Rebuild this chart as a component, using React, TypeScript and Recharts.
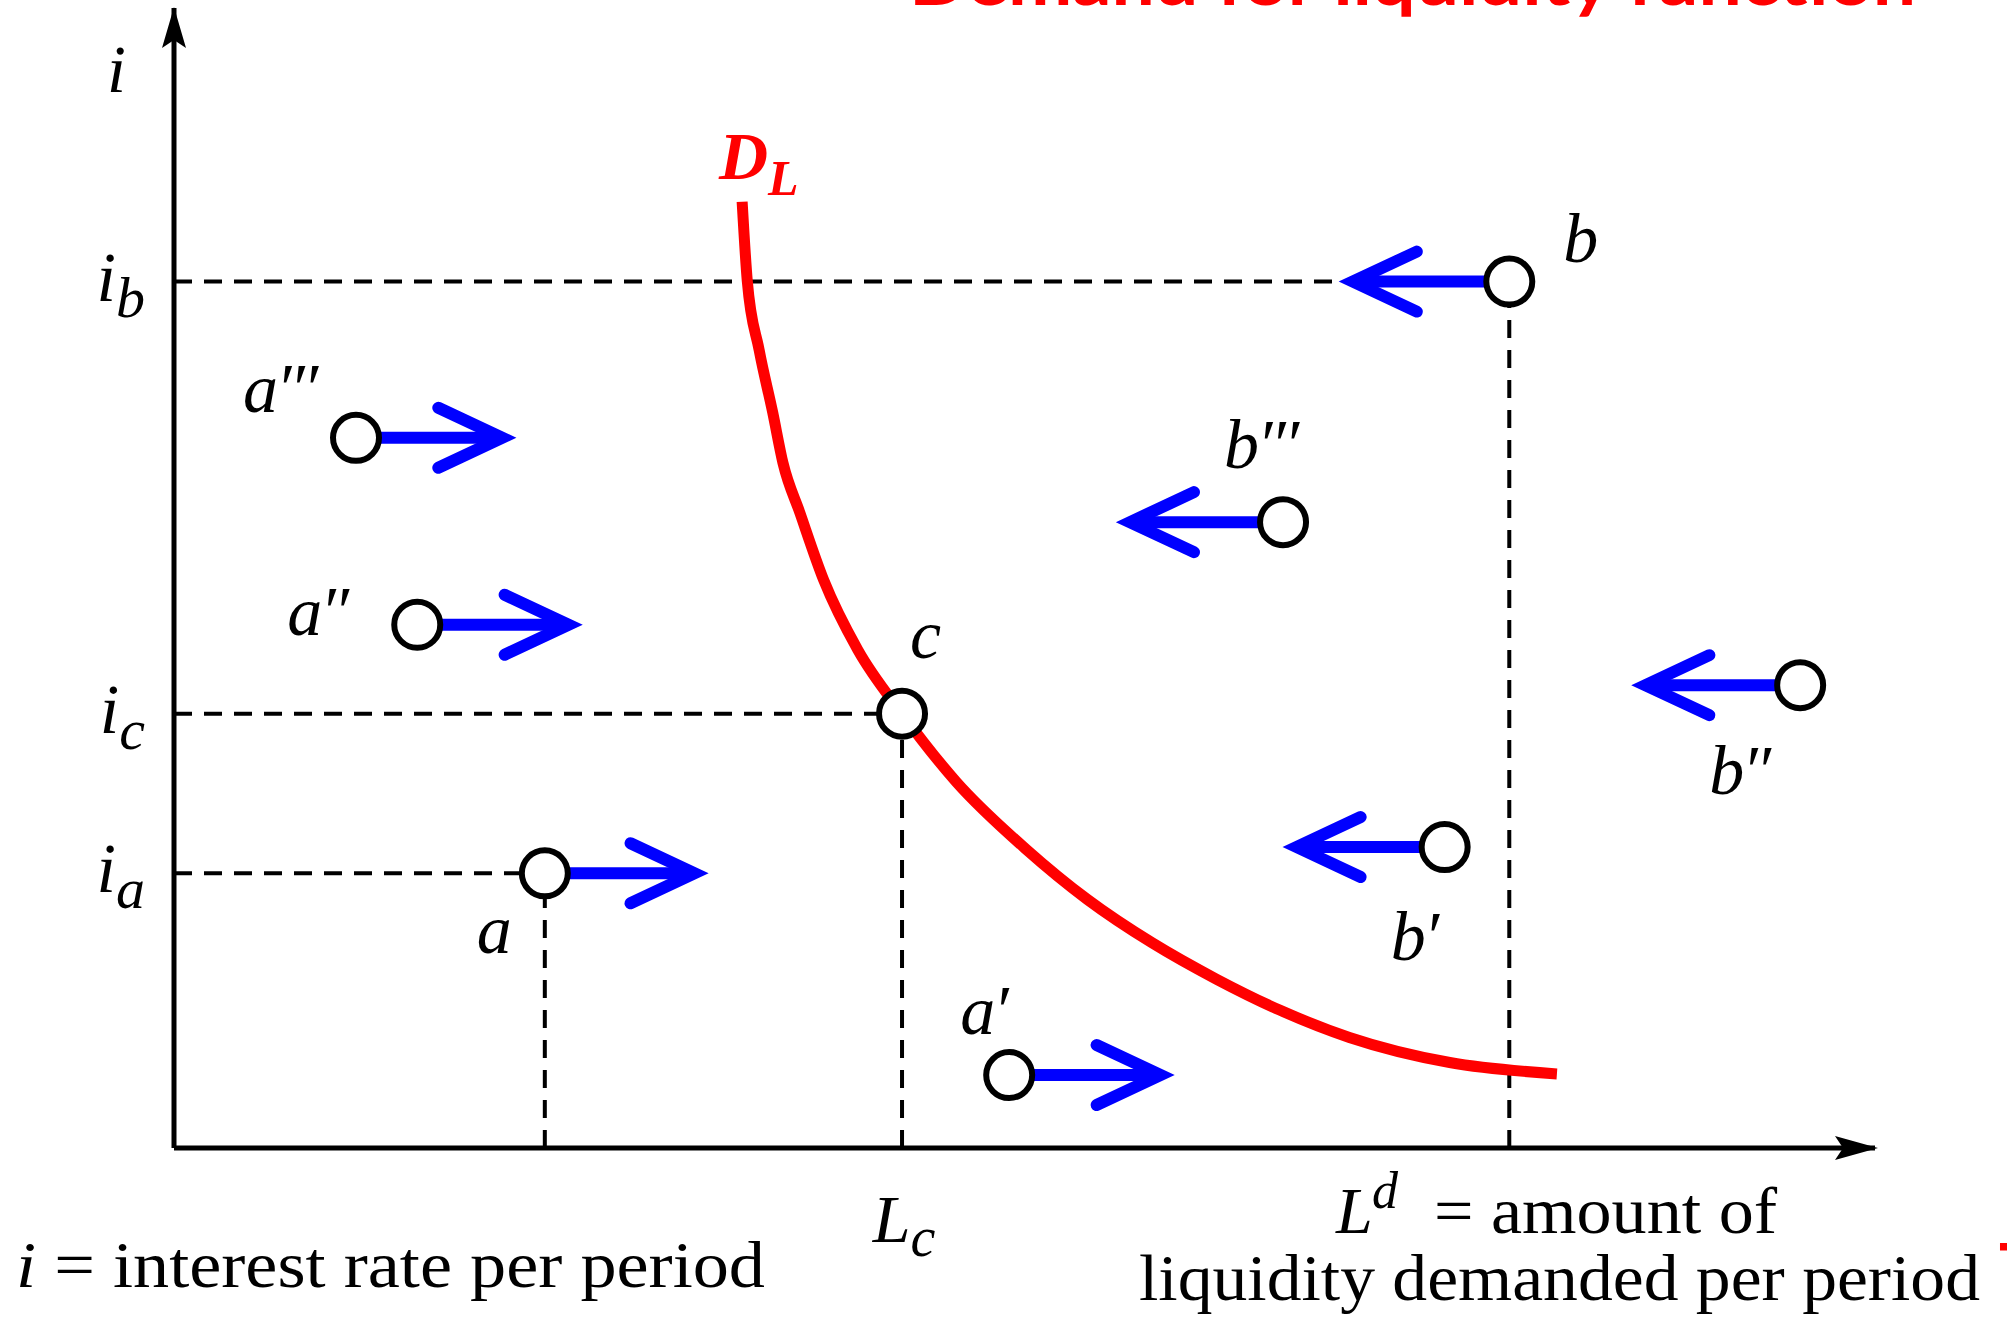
import React from 'react';
import { ComposedChart, Line, Scatter, XAxis, YAxis } from 'recharts';

// D_L curve (both axes scaled 0–100, no units on the original)
const demandL = [33.4, 33.7, 34.4, 35.2, 35.8, 36.8, 38.2, 40.2, 42.8, 46.0, 50.1, 53.7, 57.5, 61.3, 65.0, 69.1, 75.0, 81.3];
const demandI = [83.0, 76.1, 70.0, 64.5, 60.1, 55.7, 49.8, 43.7, 38.1, 32.1, 26.2, 21.8, 18.0, 14.8, 12.1, 9.7, 7.5, 6.5];

// the labelled points
const pointNames = ['b', 'c', 'a', 'a′′′', 'a′′', 'a′', 'b′′′', 'b′′', 'b′'];
const pointL = [78.5, 42.8, 21.8, 10.7, 14.3, 49.1, 65.2, 95.6, 74.7];
const pointI = [76.0, 38.1, 24.1, 62.3, 45.9, 6.4, 54.9, 40.6, 26.4];

// L value at the tip of each blue arrow (null = no arrow)
const arrowTipL = [69.3, null, 30.6, 19.3, 23.2, 58.0, 56.2, 86.5, 66.0];

// points that get dashed guides to both axes, and their tick subscripts
const guideNames = ['a', 'c', 'b'];
const yTickSubs = ['a', 'c', 'b'];
const xTickName = 'c';

const W = 2007;
const H = 1322;
const MATH = "'Liberation Serif', 'DejaVu Serif', serif";
const SANS = "Lato, 'Open Sans', sans-serif";
const RED = '#ff0000';
const BLUE = '#0000ff';

// label offset (px) from each circle centre: [dx, baseline dy]
const labelOffset: Record<string, [number, number]> = {
  b: [54, -20],
  c: [8, -56],
  a: [-68, 80],
  'a′′′': [-113, -26],
  'a′′': [-130, 10],
  'a′': [-49, -41],
  'b′′′': [-59, -54],
  'b′′': [-91, 109],
  'b′': [-54, 113],
};

const demandData = demandL.map((L, k) => ({ L, i: demandI[k] }));
const pointData = pointNames.map((name, k) => ({ name, L: pointL[k], i: pointI[k] }));
const idx = (n: string) => pointNames.indexOf(n);
const yTicks = guideNames.map((n) => pointI[idx(n)]);
const xTick = pointL[idx(xTickName)];

const axisArrows = [
  { L: 100, i: 0, dir: 'x' },
  { L: 0, i: 100, dir: 'y' },
];

const YTick = ({ x, y, payload }: any) => {
  const k = yTicks.indexOf(payload.value);
  return (
    <text x={x - 29} y={y + 19} textAnchor="end" fontFamily={MATH} fontStyle="italic" fill="#000">
      <tspan fontSize={70}>i</tspan>
      <tspan fontSize={58} dy={16}>{yTickSubs[k]}</tspan>
    </text>
  );
};

const XTick = ({ x, y }: any) => (
  <text x={x + 2} y={y + 94} textAnchor="middle" fontFamily={MATH} fontStyle="italic" fill="#000">
    <tspan fontSize={68}>L</tspan>
    <tspan fontSize={56} dy={14}>{xTickName}</tspan>
  </text>
);

const PointShape = ({ cx, cy, payload }: any) => {
  const [dx, dy] = labelOffset[payload.name] || [30, -30];
  return (
    <g>
      <circle cx={cx} cy={cy} r={23} fill="#fff" stroke="#000" strokeWidth={6} />
      <text x={cx + dx} y={cy + dy} fontFamily={MATH} fontStyle="italic" fontSize={70} fill="#000" letterSpacing={-2}>
        {payload.name}
      </text>
    </g>
  );
};

const AxisArrow = ({ cx, cy, payload }: any) => {
  if (payload.dir === 'x') {
    return <path d={`M${cx + 3},${cy} L${cx - 40},${cy - 12} L${cx - 32},${cy} L${cx - 40},${cy + 12} Z`} fill="#000" />;
  }
  return <path d={`M${cx},${cy - 1} L${cx - 12},${cy + 40} L${cx},${cy + 32} L${cx + 12},${cy + 40} Z`} fill="#000" />;
};

const arrowHead = (left: boolean) => (props: any) => {
  const { cx, cy, index } = props;
  if (index !== 1) return <g key={`d${index}`} />;
  const s = left ? 1 : -1;
  return (
    <path
      key={`d${index}`}
      d={`M${cx + s * 64},${cy - 30} L${cx},${cy} L${cx + s * 64},${cy + 30}`}
      fill="none"
      stroke={BLUE}
      strokeWidth={12}
      strokeLinecap="round"
      strokeLinejoin="miter"
    />
  );
};

export default function App() {
  return (
    <div style={{ position: 'absolute', left: 0, top: 0, width: W, height: H, background: '#fff', overflow: 'hidden' }}>
      <ComposedChart width={W} height={H} margin={{ top: 8, right: 132, bottom: 173, left: 173 }}>
        <XAxis
          type="number"
          dataKey="L"
          domain={[0, 100]}
          ticks={[xTick]}
          height={1}
          tickSize={0}
          tickMargin={0}
          tickLine={false}
          axisLine={{ stroke: '#000', strokeWidth: 5 }}
          tick={<XTick />}
        />
        <YAxis
          type="number"
          dataKey="i"
          domain={[0, 100]}
          ticks={yTicks}
          width={1}
          tickSize={0}
          tickMargin={0}
          tickLine={false}
          axisLine={{ stroke: '#000', strokeWidth: 5 }}
          tick={<YTick />}
        />

        {guideNames.map((n) => {
          const k = idx(n);
          return (
            <Line
              key={`h-${n}`}
              data={[{ L: 0, i: pointI[k] }, { L: pointL[k], i: pointI[k] }]}
              dataKey="i"
              type="linear"
              stroke="#000"
              strokeWidth={4}
              strokeDasharray="18 12"
              dot={false}
              activeDot={false}
              isAnimationActive={false}
            />
          );
        })}
        {guideNames.map((n) => {
          const k = idx(n);
          return (
            <Line
              key={`v-${n}`}
              data={[{ L: pointL[k], i: 0 }, { L: pointL[k], i: pointI[k] }]}
              dataKey="i"
              type="linear"
              stroke="#000"
              strokeWidth={4}
              strokeDasharray="18 12"
              dot={false}
              activeDot={false}
              isAnimationActive={false}
            />
          );
        })}

        <Line
          data={demandData}
          dataKey="i"
          type="monotone"
          stroke={RED}
          strokeWidth={11}
          dot={false}
          activeDot={false}
          isAnimationActive={false}
        />

        {pointNames.map((n, k) => {
          const tip = arrowTipL[k];
          if (tip == null) return null;
          return (
            <Line
              key={`arr-${n}`}
              data={[{ L: pointL[k], i: pointI[k] }, { L: tip, i: pointI[k] }]}
              dataKey="i"
              type="linear"
              stroke={BLUE}
              strokeWidth={12}
              dot={arrowHead(tip < pointL[k])}
              activeDot={false}
              isAnimationActive={false}
            />
          );
        })}

        <Scatter data={axisArrows} dataKey="i" shape={<AxisArrow />} isAnimationActive={false} />
        <Scatter data={pointData} dataKey="i" shape={<PointShape />} isAnimationActive={false} />
      </ComposedChart>

      <svg
        width={W}
        height={H}
        style={{ position: 'absolute', left: 0, top: 0, pointerEvents: 'none' }}
      >
        <text x={909} y={5} fontFamily={SANS} fontWeight="bold" fontSize={66} fill={RED} textLength={1007} lengthAdjust="spacingAndGlyphs">
          Demand for liquidity function
        </text>
        <text x={1999} y={1292} fontFamily={SANS} fontWeight="bold" fontSize={66} fill={RED}>T</text>

        <text x={107} y={92} fontFamily={MATH} fontStyle="italic" fontSize={68} fill="#000">i</text>

        <text fontFamily={MATH} fontStyle="italic" fontWeight="bold" fill={RED}>
          <tspan x={719} y={179} fontSize={68}>D</tspan>
          <tspan x={768} y={195} fontSize={50}>L</tspan>
        </text>

        <text x={16} y={1287} fontFamily={MATH} fontSize={66} fill="#000" textLength={749} lengthAdjust="spacingAndGlyphs">
          <tspan fontStyle="italic">i</tspan> = interest rate per period
        </text>

        <text fontFamily={MATH} fill="#000">
          <tspan x={1336} y={1233} fontSize={66} fontStyle="italic">L</tspan>
          <tspan x={1372} y={1208} fontSize={52} fontStyle="italic">d</tspan>
        </text>
        <text x={1434} y={1233} fontFamily={MATH} fontSize={66} fill="#000" textLength={343} lengthAdjust="spacingAndGlyphs">
          = amount of
        </text>
        <text x={1139} y={1300} fontFamily={MATH} fontSize={66} fill="#000" textLength={841} lengthAdjust="spacingAndGlyphs">
          liquidity demanded per period
        </text>
      </svg>
    </div>
  );
}
